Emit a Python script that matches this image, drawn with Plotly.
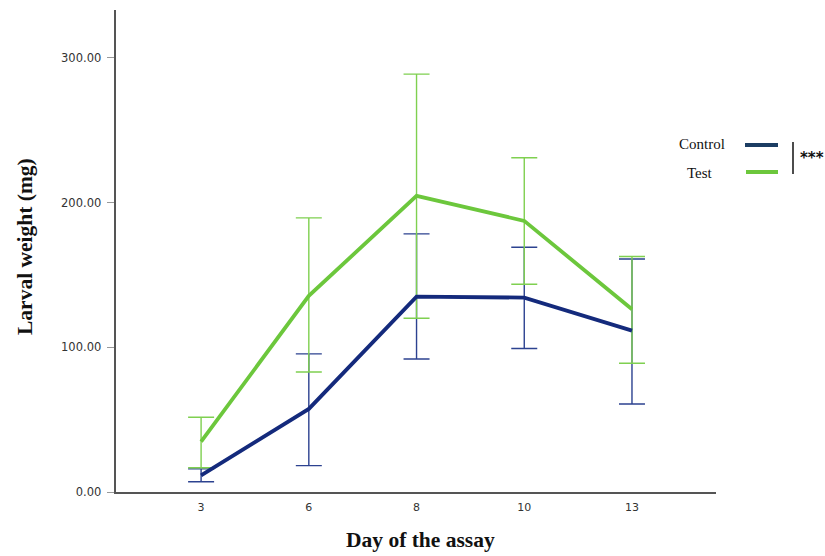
import plotly.graph_objects as go

days = ["3", "6", "8", "10", "13"]
control_mean = [11.5, 57.4, 135.0, 134.3, 111.5]
control_upper = [16.0, 95.4, 178.3, 169.1, 161.0]
control_lower = [7.1, 18.2, 91.9, 99.1, 60.8]
test_mean = [34.8, 135.5, 204.6, 187.3, 126.3]
test_upper = [51.6, 189.4, 288.7, 230.9, 162.7]
test_lower = [16.8, 82.9, 120.0, 143.5, 89.0]
y_ticks = [0, 100, 200, 300]
y_ticklabels = ["0.00", "100.00", "200.00", "300.00"]

NAVY = "#142a7c"
NAVY_ERR = "#2c4290"
GREEN = "#6cc73c"
GREEN_ERR = "#7fd050"
LEG_NAVY = "#1c3d63"

def err(mean, upper, lower):
    return [u - m for u, m in zip(upper, mean)], [m - l for m, l in zip(mean, lower)]

cu, cl = err(control_mean, control_upper, control_lower)
tu, tl = err(test_mean, test_upper, test_lower)

fig = go.Figure()
fig.add_trace(go.Scatter(x=days, y=control_mean, mode="markers", marker=dict(size=0.1, color="rgba(0,0,0,0)"),
                         error_y=dict(type="data", symmetric=False, array=cu, arrayminus=cl,
                                      color=NAVY_ERR, thickness=1.4, width=13), showlegend=False, hoverinfo="skip"))
fig.add_trace(go.Scatter(x=days, y=test_mean, mode="markers", marker=dict(size=0.1, color="rgba(0,0,0,0)"),
                         error_y=dict(type="data", symmetric=False, array=tu, arrayminus=tl,
                                      color=GREEN_ERR, thickness=1.4, width=13), showlegend=False, hoverinfo="skip"))
fig.add_trace(go.Scatter(x=days, y=control_mean, mode="lines", line=dict(color=NAVY, width=3.8),
                         name="Control", showlegend=False))
fig.add_trace(go.Scatter(x=days, y=test_mean, mode="lines", line=dict(color=GREEN, width=3.8),
                         name="Test", showlegend=False))

def px(x):
    return (x - 116) / 600

def py(y):
    return (492 - y) / 482

fig.update_layout(
    width=825, height=556,
    margin=dict(l=116, r=109, t=10, b=64),
    plot_bgcolor="white", paper_bgcolor="white",
    xaxis=dict(type="category", range=[-0.79, 4.78], showgrid=False, zeroline=False,
               showline=True, linecolor="#555", linewidth=1.5, ticks="", ticklabelstandoff=4,
               tickfont=dict(family="DejaVu Sans", size=11, color="#333")),
    yaxis=dict(range=[0, 333], showgrid=False, zeroline=False, showline=True, linecolor="#555",
               linewidth=1.5, ticks="outside", ticklen=7, tickcolor="#999", tickwidth=1.2,
               tickvals=y_ticks, ticktext=[t + "\u00a0" for t in y_ticklabels],
               tickfont=dict(family="DejaVu Sans", size=11.5, color="#333")),
    annotations=[
        dict(text="<b>Larval weight (mg)</b>", xref="paper", yref="paper", x=px(25), y=py(247),
             xanchor="center", yanchor="middle", textangle=-90, showarrow=False,
             font=dict(family="Liberation Serif", size=21.5, color="#111")),
        dict(text="<b>Day of the assay</b>", xref="paper", yref="paper", x=px(420), y=py(540),
             xanchor="center", yanchor="middle", showarrow=False,
             font=dict(family="Liberation Serif", size=21.5, color="#111")),
        dict(text="Control", xref="paper", yref="paper", x=px(727), y=py(144),
             xanchor="right", yanchor="middle", showarrow=False,
             font=dict(family="Liberation Serif", size=15, color="#111")),
        dict(text="Test", xref="paper", yref="paper", x=px(715), y=py(173),
             xanchor="right", yanchor="middle", showarrow=False,
             font=dict(family="Liberation Serif", size=15, color="#111")),
        dict(text="<b>***</b>", xref="paper", yref="paper", x=px(798), y=py(158),
             xanchor="left", yanchor="middle", showarrow=False,
             font=dict(family="DejaVu Sans", size=15, color="#111")),
    ],
    shapes=[
        dict(type="line", xref="paper", yref="paper", x0=px(745), x1=px(778),
             y0=py(145), y1=py(145), line=dict(color=LEG_NAVY, width=4)),
        dict(type="line", xref="paper", yref="paper", x0=px(746), x1=px(778),
             y0=py(172), y1=py(172), line=dict(color=GREEN, width=4)),
        dict(type="line", xref="paper", yref="paper", x0=px(793), x1=px(793),
             y0=py(142), y1=py(174), line=dict(color="#111", width=1.5)),
    ],
)

fig.write_html("out.html")
